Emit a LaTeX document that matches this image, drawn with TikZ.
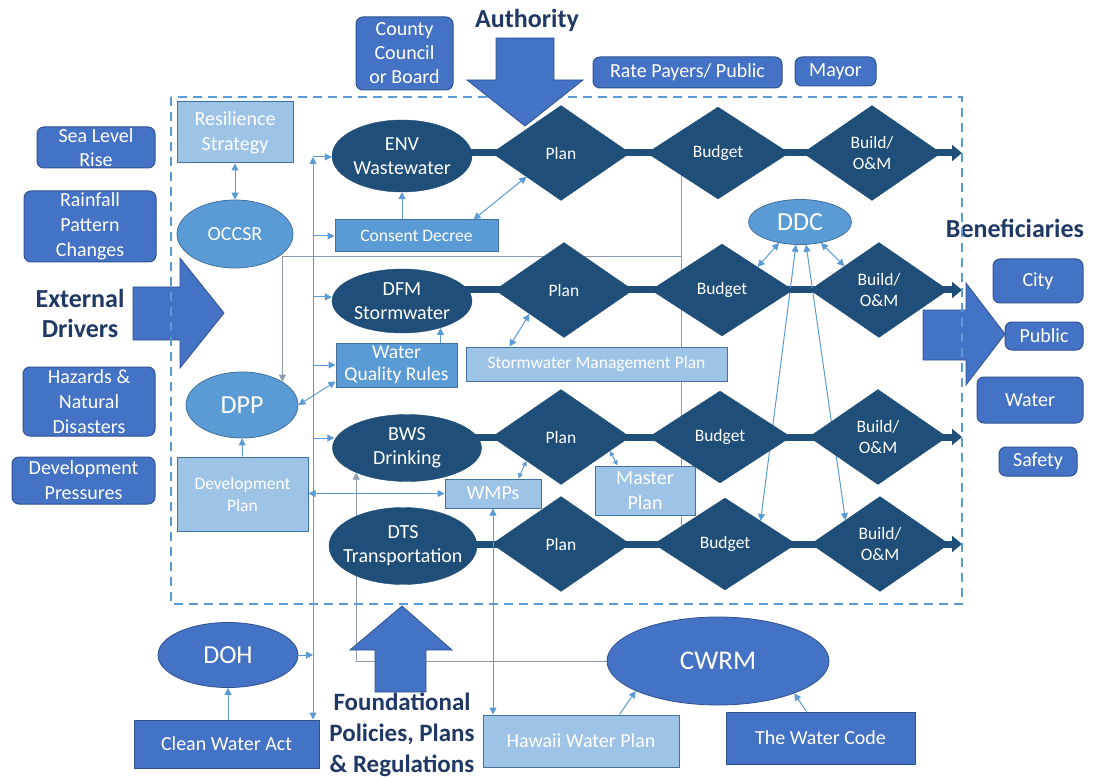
\documentclass[tikz,border=0pt]{standalone}
\usepackage{fontspec}
\setmainfont{Carlito}
\usetikzlibrary{shapes.geometric,arrows.meta,calc,backgrounds}
\definecolor{navy}{HTML}{1F4E79}
\definecolor{medb}{HTML}{5B9BD5}
\definecolor{lightb}{HTML}{9DC3E6}
\definecolor{strongb}{HTML}{4472C4}
\definecolor{strongbd}{HTML}{2F528F}
\definecolor{medbd}{HTML}{41719C}
\definecolor{headc}{HTML}{1F3864}
\definecolor{grayln}{HTML}{8C9BB0}
\begin{document}
\begin{tikzpicture}[x=1pt,y=-1pt,
  >={Triangle[length=7pt,width=7pt]},
  f20/.style={font=\fontsize{20}{24}\selectfont},
  dia/.style={diamond, fill=navy, draw=navy, inner sep=0pt, minimum width=138pt, minimum height=95pt,
    text=white, align=center, font=\fontsize{17.5}{20.5}\selectfont},
  ell/.style={ellipse, inner xsep=-8pt, inner ysep=-2pt, text=white, align=center},
  navyell/.style={ell, fill=navy, draw=navy, f20},
  medell/.style={ell, fill=medb, draw=medbd, line width=0.8pt},
  strongell/.style={ell, fill=strongb, draw=strongbd, line width=0.8pt},
  boxbase/.style={rectangle, inner sep=0pt, text=white, align=center, line width=1pt, f20},
  lbox/.style={boxbase, fill=lightb, draw=medbd},
  mbox/.style={boxbase, fill=medb, draw=medbd},
  sbox/.style={boxbase, fill=strongb, draw=strongbd},
  rbox/.style={sbox, rounded corners=7pt},
  rowline/.style={line width=7pt, draw=navy},
  conn/.style={draw=medb, line width=1pt},
  gconn/.style={draw=grayln, line width=1pt},
  smalltip/.style={>={Triangle[length=5pt,width=5pt]}},
  heading/.style={text=headc, font=\bfseries\fontsize{26}{30}\selectfont, align=center},
  bigarrow/.style={fill=strongb, draw=strongbd, line width=0.8pt},
  frame/.style={draw=medb, line width=2pt, dash pattern=on 9pt off 6pt}
]
\useasboundingbox (0,0) rectangle (1093,778);

% ---------- headings
\node[heading] (hauth) at (527,20) {Authority};
\node[heading] (hext) at (80,313) {External\\Drivers};
\node[heading] (hben) at (1015,228) {Beneficiaries};
\node[heading, font=\bfseries\fontsize{25}{31}\selectfont] (hfound) at (402,735) {Foundational\\Policies, Plans\\\& Regulations};

% ---------- big arrows (left/right/bottom)
\draw[bigarrow] (133,287) -- (180,287) -- (180,258) -- (224,313) -- (180,368) -- (180,340) -- (133,340) -- cycle;
\draw[bigarrow] (923,310) -- (966,310) -- (966,283) -- (1005,334) -- (966,385) -- (966,360) -- (923,360) -- cycle;

% ---------- frame
\draw[frame] (171,97) rectangle (962,604);

% ---------- authority arrow
\draw[bigarrow] (496,38) -- (554,38) -- (554,80) -- (583,80) -- (525,126) -- (467,80) -- (496,80) -- cycle;

% ---------- outside boxes
\node[rbox, minimum width=97pt, minimum height=73pt] (ccb) at (404.5,53.5) {County\\Council\\or Board};
\node[rbox, minimum width=189pt, minimum height=31pt] (rpp) at (687.5,72.5) {Rate Payers/ Public};
\node[rbox, minimum width=81pt, minimum height=29pt] (mayor) at (835.5,71.5) {Mayor};

\node[rbox, minimum width=118pt, minimum height=41pt] (slr) at (96,147.5) {Sea Level\\Rise};
\node[rbox, minimum width=132pt, minimum height=71pt, font=\fontsize{20}{25}\selectfont] (rpc) at (90,226.5) {Rainfall\\Pattern\\Changes};
\node[rbox, minimum width=132pt, minimum height=69pt, font=\fontsize{20}{25}\selectfont] (hnd) at (89,401.5) {Hazards \&\\Natural\\Disasters};
\node[rbox, minimum width=143pt, minimum height=47pt, font=\fontsize{20}{25}\selectfont] (dvp) at (83.5,480.5) {Development\\Pressures};

\node[rbox, minimum width=90pt, minimum height=44pt] (city) at (1038,281) {City};
\node[rbox, minimum width=78pt, minimum height=28pt] (public) at (1044,336) {Public};
\node[rbox, minimum width=106pt, minimum height=46pt] (water) at (1030,400) {Water};
\node[rbox, minimum width=78pt, minimum height=29pt] (safety) at (1038,461.5) {Safety};

% ---------- inner nodes
\node[lbox, minimum width=116pt, minimum height=61pt, font=\fontsize{20}{25}\selectfont] (res) at (235,132.5) {Resilience\\Strategy};
\node[medell, minimum width=116pt, minimum height=68pt, f20] (occsr) at (235,234) {OCCSR};
\node[medell, minimum width=112pt, minimum height=66pt, font=\fontsize{26}{30}\selectfont] (dpp) at (242,405) {DPP};
\node[lbox, minimum width=131pt, minimum height=74pt, font=\fontsize{17.5}{22}\selectfont] (devp) at (242.5,494) {Development\\Plan};

\node[navyell, minimum width=140pt, minimum height=72pt] (env) at (402,156) {ENV\\Wastewater};
\node[navyell, minimum width=140pt, minimum height=64pt] (dfm) at (402,301) {DFM\\Stormwater};
\node[navyell, minimum width=149pt, minimum height=67pt] (bws) at (407,448) {BWS\\Drinking};
\node[navyell, minimum width=148pt, minimum height=77pt] (dts) at (403,546) {DTS\\Transportation};

\node[mbox, minimum width=163pt, minimum height=32pt, font=\fontsize{17.5}{21}\selectfont] (cd) at (416.5,236) {Consent Decree};
\node[mbox, minimum width=121pt, minimum height=44pt, font=\fontsize{19.5}{21.5}\selectfont] (wqr) at (396.5,365) {Water\\Quality Rules};
\node[lbox, minimum width=261pt, minimum height=34pt, font=\fontsize{17.5}{21}\selectfont] (smp) at (596.5,364) {Stormwater Management Plan};
\node[lbox, minimum width=96pt, minimum height=29pt] (wmps) at (493,493.5) {WMPs};
\node[lbox, minimum width=100pt, minimum height=49pt, font=\fontsize{20}{25}\selectfont] (mp) at (645,490.5) {Master\\Plan};

\node[medell, minimum width=103pt, minimum height=45pt, font=\fontsize{26}{30}\selectfont] (ddc) at (800,222) {DDC};

% diamonds
\node[dia] (p1) at (561,153) {Plan};
\node[dia, minimum width=142pt, minimum height=92pt] (b1) at (718,153) {Budget};
\node[dia] (o1) at (872,153) {Build/\\O\&M};
\node[dia] (p2) at (564,290) {Plan};
\node[dia, minimum width=142pt, minimum height=92pt] (b2) at (722,290) {Budget};
\node[dia] (o2) at (879,290) {Build/\\O\&M};
\node[dia] (p3) at (561,437) {Plan};
\node[dia, minimum width=142pt, minimum height=92pt] (b3) at (720,437) {Budget};
\node[dia] (o3) at (878,437) {Build/\\O\&M};
\node[dia] (p4) at (561,544) {Plan};
\node[dia, minimum width=142pt, minimum height=92pt] (b4) at (725,544) {Budget};
\node[dia] (o4) at (880,544) {Build/\\O\&M};

% bottom nodes
\node[strongell, minimum width=140pt, minimum height=65pt, font=\fontsize{26}{30}\selectfont] (doh) at (228,655) {DOH};
\node[strongell, minimum width=222pt, minimum height=88pt, font=\fontsize{27}{30}\selectfont] (cwrm) at (718,661) {CWRM};
\node[sbox, minimum width=185pt, minimum height=48pt] (cwa) at (226.5,744) {Clean Water Act};
\node[lbox, minimum width=196pt, minimum height=52pt] (hwp) at (581,741) {Hawaii Water Plan};
\node[sbox, minimum width=189pt, minimum height=52pt] (twc) at (820.5,738) {The Water Code};

% coordinates
\coordinate (gx) at (681,0);
\coordinate (gj) at (681,257);
\coordinate (end1) at (962,153);
\coordinate (end2) at (962,290);
\coordinate (end3) at (962,437);
\coordinate (end4) at (962,544);
\coordinate (busT) at (313,157);
\coordinate (bus3) at (313,297);
\coordinate (bus5) at (313,438);
\coordinate (wq1) at ($(wqr.north east)+(-17,0)$);

% ---------- background connectors
\begin{scope}[on background layer]
  \draw[gconn] (b1.center -| gx) -- (b4.center -| gx);
  \draw[gconn,->] (gj) -- (gj -| dpp.30) -- (dpp.30);
  \draw[gconn,->] (cwrm.west) -| (bws.206);
  \draw[rowline] (env.center |- p1.center) -- (o1.center);
  \draw[rowline,-{Triangle[length=10pt,width=16pt]}] (o1.center) -- (end1);
  \draw[rowline] (dfm.center |- p2.center) -- (o2.center);
  \draw[rowline,-{Triangle[length=10pt,width=16pt]}] (o2.center) -- (end2);
  \draw[rowline] (bws.center |- p3.center) -- (o3.center);
  \draw[rowline,-{Triangle[length=10pt,width=16pt]}] (o3.center) -- (end3);
  \draw[rowline] (dts.center |- p4.center) -- (o4.center);
  \draw[rowline,-{Triangle[length=10pt,width=16pt]}] (o4.center) -- (end4);
  \draw[conn,<->] (ddc.-100) -- (b4.north east);
  \draw[conn,<->] (ddc.-75) -- (o4.north west);
\end{scope}

% ---------- foreground connectors
\draw[conn,<->] (res.south) -- (occsr.north);
\draw[conn,<->] (busT) -- (cwa.north -| busT);
\draw[conn,->] (busT) -- (busT -| env.west);
\draw[conn,->] (cd.west -| busT) -- (cd.west);
\draw[conn,->] (bus3) -- (bus3 -| dfm.west);
\draw[conn,->] (wqr.west -| busT) -- (wqr.west);
\draw[conn,->] (bus5) -- ($(bus5 -| bws.west)+(2,0)$);
\draw[conn,->] (doh.east) -- (doh.east -| busT);
\draw[conn,->] (cwa.north -| doh.south) -- (doh.south);
\draw[conn,->] (devp.north) -- (dpp.south);
\draw[conn,<->] (devp.east |- wmps.west) -- (wmps.west);
\draw[conn,<->] (wmps.south) -- (wmps.south |- hwp.north);
\draw[conn,<->,smalltip] ($(wmps.north east)+(-23,0)$) -- (p3.south west);
\draw[conn,<->,smalltip] (p3.-16) -- ($(mp.north west)+(23,0)$);
\draw[conn,<->] ($(smp.north west)+(44,0)$) -- (p2.south west);
\draw[conn,->] (wq1) -- (wq1 |- dfm.-35);
\draw[conn,<->] ($(wqr.south west)+(0,-6)$) -- (dpp.east);
\draw[conn,->] (env.south |- cd.north) -- (env.south);
\draw[conn,<->] ($(cd.north east)+(-25,0)$) -- (p1.south west);
\draw[conn,->] ($(hwp.north east)+(-60,0)$) -- (cwrm.200);
\draw[conn,->] ($(twc.north west)+(81,0)$) -- (cwrm.-23);
\draw[conn,<->] (ddc.225) -- (b2.north east);
\draw[conn,<->] (ddc.-45) -- (o2.north west);

% ---------- foundational arrow (over the CWRM line)
\draw[bigarrow] (375,692) -- (375,650) -- (350,650) -- (402,606) -- (452,650) -- (426,650) -- (426,692) -- cycle;
\end{tikzpicture}
\end{document}
